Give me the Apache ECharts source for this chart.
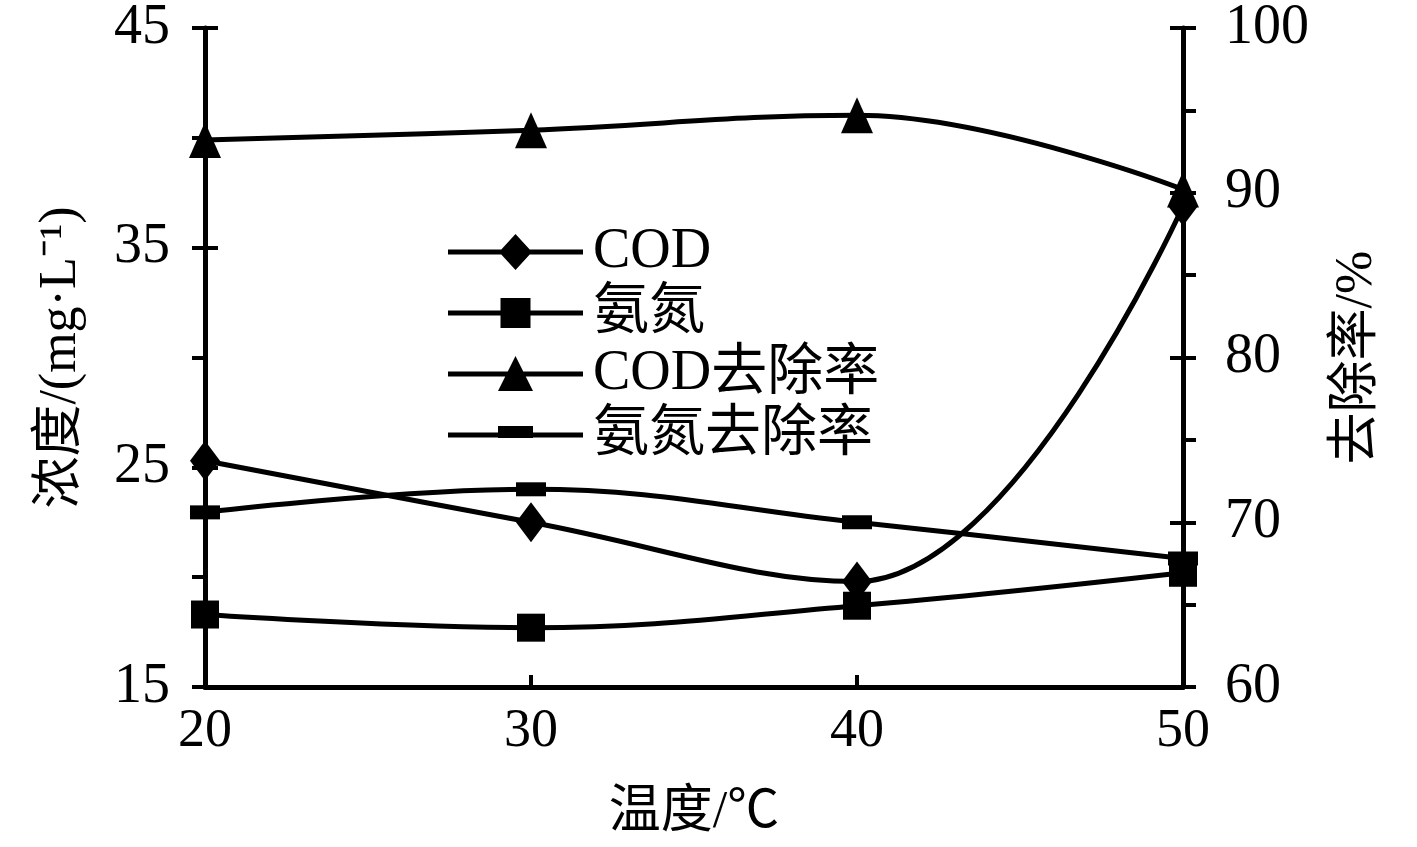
<!DOCTYPE html>
<html>
<head>
<meta charset="utf-8">
<script src="https://cdn.jsdelivr.net/npm/echarts@6/dist/echarts.min.js"></script>
<style>html,body{margin:0;padding:0;background:#fff}#c{width:1417px;height:847px}</style>
</head>
<body>
<div id="c"></div>
<script>
var temps = [20, 30, 40, 50];
var codConc = [25.3, 22.5, 19.8, 36.9];
var nhConc = [18.3, 17.7, 18.7, 20.2];
var codRate = [93.2, 93.8, 94.7, 90.2];
var nhRate = [70.6, 72.0, 70.0, 67.8];
var seriesNames = ['COD', '氨氮', 'COD去除率', '氨氮去除率'];
var leftTicks = {min: 15, max: 45, interval: 10};
var rightTicks = {min: 60, max: 100, interval: 10};
var xTicks = {min: 20, max: 50, interval: 10};

var FONT = '"Liberation Serif", "Noto Sans CJK SC", serif';
var box = 'M0 0 M135 40 ';
var lineBar = 'M0 17.5 H135 V22.5 H0 Z ';
var icons = [
  'path://' + box + lineBar + 'M67.5 2 L84 20 L67.5 38 L51 20 Z',
  'path://' + box + lineBar + 'M52.5 5 H82.5 V35 H52.5 Z',
  'path://' + box + lineBar + 'M67.5 2 L85 37 L50 37 Z',
  'path://' + box + lineBar + 'M50 11 H85 V23 H50 Z'
];

function pairs(vals) { return temps.map(function (t, i) { return [t, vals[i]]; }); }

var chart = echarts.init(document.getElementById('c'));
var axisLine = {show: true, lineStyle: {color: '#000', width: 5}};
chart.setOption({
  animation: false,
  backgroundColor: '#fff',
  textStyle: {fontFamily: FONT, color: '#000'},
  grid: {left: 205, right: 234, top: 28, bottom: 160, containLabel: false},
  legend: {
    orient: 'vertical', left: 443, top: 219,
    itemWidth: 135, itemHeight: 40, itemGap: 5,
    itemStyle: {borderWidth: 0},
    textStyle: {fontFamily: FONT, fontSize: 56, color: '#000', padding: [0, 0, 0, 5]},
    data: seriesNames.map(function (n, i) { return {name: n, icon: icons[i]}; })
  },
  xAxis: {
    type: 'value', min: xTicks.min, max: xTicks.max, interval: xTicks.interval,
    axisLine: axisLine,
    axisTick: {show: true, inside: true, length: 12, lineStyle: {color: '#000', width: 4}},
    axisLabel: {fontFamily: FONT, fontSize: 54, color: '#000', margin: 18},
    splitLine: {show: false},
    name: '温度/℃', nameLocation: 'middle', nameGap: 100,
    nameTextStyle: {fontFamily: FONT, fontSize: 52, color: '#000'}
  },
  yAxis: [
    {
      type: 'value', position: 'left', min: leftTicks.min, max: leftTicks.max, interval: leftTicks.interval,
      axisLine: axisLine,
      axisTick: {show: true, inside: false, length: 13, lineStyle: {color: '#000', width: 4}},
      minorTick: {show: true, splitNumber: 2, length: 13, lineStyle: {color: '#000', width: 4}},
      axisLabel: {fontFamily: FONT, fontSize: 56, color: '#000', margin: 35},
      splitLine: {show: false},
      name: '浓度/(mg·L⁻¹)', nameLocation: 'middle', nameGap: 118,
      nameTextStyle: {fontFamily: FONT, fontSize: 52, color: '#000'}
    },
    {
      type: 'value', position: 'right', min: rightTicks.min, max: rightTicks.max, interval: rightTicks.interval,
      axisLine: axisLine,
      axisTick: {show: true, inside: false, length: 13, lineStyle: {color: '#000', width: 4}},
      minorTick: {show: true, splitNumber: 2, length: 13, lineStyle: {color: '#000', width: 4}},
      axisLabel: {fontFamily: FONT, fontSize: 56, color: '#000', margin: 42},
      splitLine: {show: false},
      name: '去除率/%', nameLocation: 'middle', nameGap: 148,
      nameTextStyle: {fontFamily: FONT, fontSize: 52, color: '#000'}
    },
    {
      type: 'value', position: 'left', offset: 0, min: leftTicks.min, max: leftTicks.max, interval: leftTicks.interval,
      axisLine: {show: false},
      axisTick: {show: true, inside: true, length: 13, lineStyle: {color: '#000', width: 4}},
      axisLabel: {show: false}, splitLine: {show: false}
    },
    {
      type: 'value', position: 'right', offset: 0, min: rightTicks.min, max: rightTicks.max, interval: rightTicks.interval,
      axisLine: {show: false},
      axisTick: {show: true, inside: true, length: 13, lineStyle: {color: '#000', width: 4}},
      axisLabel: {show: false}, splitLine: {show: false}
    }
  ],
  series: [
    {name: seriesNames[0], type: 'line', yAxisIndex: 0, smooth: 0.4, data: pairs(codConc),
     symbol: 'diamond', symbolSize: [30, 40], color: '#000',
     lineStyle: {color: '#000', width: 5}, itemStyle: {color: '#000', borderWidth: 0}},
    {name: seriesNames[1], type: 'line', yAxisIndex: 0, smooth: 0.4, data: pairs(nhConc),
     symbol: 'rect', symbolSize: 28, color: '#000',
     lineStyle: {color: '#000', width: 5}, itemStyle: {color: '#000', borderWidth: 0}},
    {name: seriesNames[2], type: 'line', yAxisIndex: 1, smooth: 0.4, data: pairs(codRate),
     symbol: 'triangle', symbolSize: [32, 36], color: '#000',
     lineStyle: {color: '#000', width: 5}, itemStyle: {color: '#000', borderWidth: 0}},
    {name: seriesNames[3], type: 'line', yAxisIndex: 1, smooth: 0.4, data: pairs(nhRate),
     symbol: 'rect', symbolSize: [30, 14], color: '#000',
     lineStyle: {color: '#000', width: 5}, itemStyle: {color: '#000', borderWidth: 0}}
  ]
});
</script>
</body>
</html>
